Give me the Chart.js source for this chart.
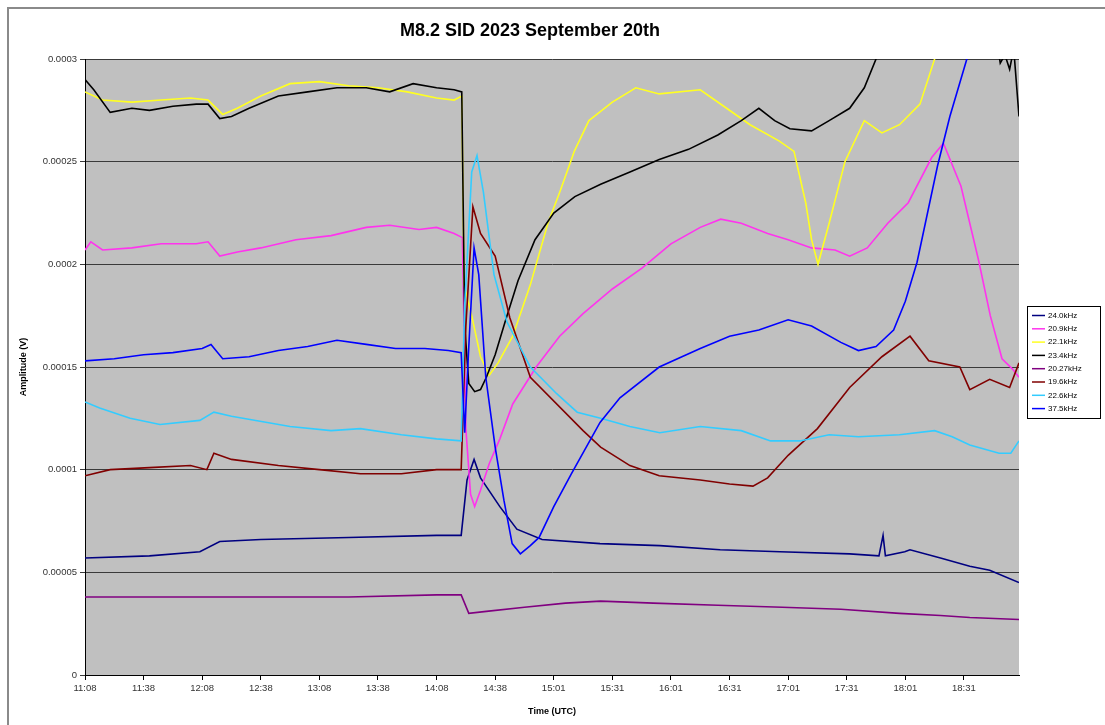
<!DOCTYPE html>
<html>
<head>
<meta charset="utf-8">
<title>M8.2 SID 2023 September 20th</title>
<script src="https://cdn.jsdelivr.net/npm/chart.js@4.4.1/dist/chart.umd.min.js"></script>
<style>
  body { margin: 0; background: #fff; }
  canvas { display: block; background: #fff; }
</style>
</head>
<body>
<canvas id="sid" width="1105" height="725"></canvas>
<script>
// Etiquetas del eje X (posicion = numero de marca)
const xLabels = ['11:08', '11:38', '12:08', '12:38', '13:08', '13:38', '14:08', '14:38',
  '15:01', '15:31', '16:01', '16:31', '17:01', '17:31', '18:01', '18:31'];
const yTickLabels = ['0', '0.00005', '0.0001', '0.00015', '0.0002', '0.00025', '0.0003'];
const seriesNames = ['24.0kHz', '20.9kHz', '22.1kHz', '23.4kHz', '20.27kHz', '19.6kHz', '22.6kHz', '37.5kHz'];

// Puntos: [posicion en marcas, amplitud V]
const s24_0 = [[0,5.7e-5],[1.1,5.8e-5],[1.96,6.0e-5],[2.3,6.5e-5],[3.0,6.6e-5],[4.5,6.7e-5],[6.0,6.8e-5],[6.42,6.8e-5],
  [6.52,9.5e-5],[6.64,1.05e-4],[6.75,9.6e-5],[7.08,8.2e-5],[7.37,7.1e-5],[7.8,6.6e-5],[8.79,6.4e-5],[9.81,6.3e-5],
  [10.84,6.1e-5],[11.86,6.0e-5],[13.05,5.9e-5],[13.55,5.8e-5],[13.62,6.8e-5],[13.66,5.8e-5],[13.99,6.0e-5],[14.08,6.1e-5],
  [14.6,5.7e-5],[15.1,5.3e-5],[15.44,5.1e-5],[15.94,4.5e-5]];
const s20_9 = [[0,2.07e-4],[0.1,2.11e-4],[0.3,2.07e-4],[0.8,2.08e-4],[1.3,2.10e-4],[1.9,2.10e-4],[2.1,2.11e-4],[2.3,2.04e-4],
  [2.6,2.06e-4],[3.0,2.08e-4],[3.6,2.12e-4],[4.2,2.14e-4],[4.8,2.18e-4],[5.2,2.19e-4],[5.7,2.17e-4],[6.0,2.18e-4],
  [6.3,2.15e-4],[6.44,2.13e-4],[6.5,1.2e-4],[6.58,8.8e-5],[6.65,8.2e-5],[6.75,9.0e-5],[6.9,1.03e-4],[7.08,1.15e-4],
  [7.3,1.32e-4],[7.7,1.50e-4],[8.1,1.65e-4],[8.5,1.76e-4],[9.0,1.88e-4],[9.5,1.98e-4],[10.0,2.10e-4],[10.5,2.18e-4],
  [10.85,2.22e-4],[11.2,2.20e-4],[11.65,2.15e-4],[12.0,2.12e-4],[12.4,2.08e-4],[12.8,2.07e-4],[13.05,2.04e-4],
  [13.35,2.08e-4],[13.7,2.20e-4],[14.05,2.30e-4],[14.45,2.52e-4],[14.65,2.59e-4],[14.95,2.38e-4],[15.25,2.02e-4],
  [15.45,1.75e-4],[15.65,1.54e-4],[15.83,1.49e-4],[15.94,1.45e-4]];
const s22_1 = [[0,2.84e-4],[0.3,2.80e-4],[0.8,2.79e-4],[1.3,2.80e-4],[1.8,2.81e-4],[2.1,2.80e-4],[2.35,2.73e-4],[2.6,2.76e-4],
  [3.0,2.82e-4],[3.5,2.88e-4],[4.0,2.89e-4],[4.5,2.87e-4],[5.0,2.86e-4],[5.5,2.84e-4],[6.0,2.81e-4],[6.3,2.80e-4],
  [6.43,2.82e-4],[6.47,1.9e-4],[6.6,1.75e-4],[6.75,1.55e-4],[6.9,1.46e-4],[7.05,1.52e-4],[7.3,1.65e-4],[7.6,1.90e-4],
  [7.9,2.20e-4],[8.1,2.35e-4],[8.35,2.55e-4],[8.6,2.70e-4],[9.0,2.79e-4],[9.4,2.86e-4],[9.8,2.83e-4],[10.5,2.85e-4],
  [10.95,2.76e-4],[11.35,2.68e-4],[11.85,2.60e-4],[12.1,2.55e-4],[12.3,2.30e-4],[12.4,2.12e-4],[12.51,2.0e-4],
  [12.7,2.2e-4],[12.97,2.5e-4],[13.3,2.7e-4],[13.6,2.64e-4],[13.9,2.68e-4],[14.25,2.78e-4],[14.5,3.0e-4],[14.8,3.2e-4]];
const s23_4 = [[0,2.90e-4],[0.15,2.85e-4],[0.43,2.74e-4],[0.8,2.76e-4],[1.1,2.75e-4],[1.5,2.77e-4],[1.9,2.78e-4],[2.1,2.78e-4],
  [2.3,2.71e-4],[2.5,2.72e-4],[2.8,2.76e-4],[3.3,2.82e-4],[3.8,2.84e-4],[4.3,2.86e-4],[4.8,2.86e-4],[5.2,2.84e-4],
  [5.6,2.88e-4],[6.0,2.86e-4],[6.3,2.85e-4],[6.43,2.84e-4],[6.48,1.7e-4],[6.55,1.42e-4],[6.65,1.38e-4],[6.75,1.39e-4],
  [6.85,1.45e-4],[7.0,1.56e-4],[7.17,1.72e-4],[7.39,1.92e-4],[7.68,2.12e-4],[8.0,2.25e-4],[8.36,2.33e-4],[8.8,2.39e-4],
  [9.3,2.45e-4],[9.8,2.51e-4],[10.3,2.56e-4],[10.8,2.63e-4],[11.2,2.70e-4],[11.5,2.76e-4],[11.77,2.70e-4],
  [12.03,2.66e-4],[12.4,2.65e-4],[12.7,2.70e-4],[13.05,2.76e-4],[13.3,2.86e-4],[13.5,3.0e-4],[13.7,3.2e-4],
  [14.5,3.5e-4],[15.5,3.2e-4],[15.62,2.98e-4],[15.7,3.02e-4],[15.78,2.95e-4],[15.85,3.05e-4],[15.94,2.72e-4]];
const s20_27 = [[0,3.8e-5],[1.5,3.8e-5],[3.0,3.8e-5],[4.5,3.8e-5],[6.0,3.9e-5],[6.42,3.9e-5],[6.55,3.0e-5],[6.85,3.1e-5],
  [7.5,3.3e-5],[8.2,3.5e-5],[8.8,3.6e-5],[9.7,3.5e-5],[10.8,3.4e-5],[11.9,3.3e-5],[12.9,3.2e-5],[13.9,3.0e-5],
  [14.6,2.9e-5],[15.1,2.8e-5],[15.94,2.7e-5]];
const s19_6 = [[0,9.7e-5],[0.43,1.0e-4],[1.1,1.01e-4],[1.8,1.02e-4],[2.08,1.0e-4],[2.2,1.08e-4],[2.5,1.05e-4],[3.3,1.02e-4],
  [4.0,1.0e-4],[4.7,9.8e-5],[5.4,9.8e-5],[6.0,1.0e-4],[6.42,1.0e-4],[6.5,1.7e-4],[6.62,2.28e-4],[6.75,2.15e-4],
  [7.0,2.04e-4],[7.25,1.74e-4],[7.6,1.45e-4],[8.5,1.19e-4],[8.8,1.11e-4],[9.3,1.02e-4],[9.8,9.7e-5],[10.5,9.5e-5],
  [11.0,9.3e-5],[11.4,9.2e-5],[11.65,9.6e-5],[12.0,1.07e-4],[12.5,1.20e-4],[13.05,1.40e-4],[13.6,1.55e-4],
  [14.08,1.65e-4],[14.4,1.53e-4],[14.93,1.50e-4],[15.1,1.39e-4],[15.44,1.44e-4],[15.78,1.40e-4],[15.94,1.52e-4]];
const s22_6 = [[0,1.33e-4],[0.25,1.30e-4],[0.77,1.25e-4],[1.28,1.22e-4],[1.96,1.24e-4],[2.2,1.28e-4],[2.5,1.26e-4],
  [3.5,1.21e-4],[4.2,1.19e-4],[4.7,1.20e-4],[5.4,1.17e-4],[6.0,1.15e-4],[6.42,1.14e-4],[6.48,1.8e-4],[6.6,2.45e-4],
  [6.69,2.53e-4],[6.8,2.35e-4],[6.98,1.95e-4],[7.2,1.72e-4],[7.6,1.50e-4],[8.05,1.37e-4],[8.4,1.28e-4],[8.8,1.25e-4],
  [9.3,1.21e-4],[9.81,1.18e-4],[10.5,1.21e-4],[11.2,1.19e-4],[11.7,1.14e-4],[12.2,1.14e-4],[12.7,1.17e-4],
  [13.2,1.16e-4],[13.9,1.17e-4],[14.5,1.19e-4],[14.8,1.16e-4],[15.1,1.12e-4],[15.6,1.08e-4],[15.8,1.08e-4],[15.94,1.14e-4]];
const s37_5 = [[0,1.53e-4],[0.5,1.54e-4],[1.0,1.56e-4],[1.5,1.57e-4],[2.0,1.59e-4],[2.15,1.61e-4],[2.35,1.54e-4],[2.8,1.55e-4],
  [3.3,1.58e-4],[3.8,1.60e-4],[4.3,1.63e-4],[4.8,1.61e-4],[5.3,1.59e-4],[5.8,1.59e-4],[6.2,1.58e-4],[6.42,1.57e-4],
  [6.48,1.18e-4],[6.55,1.6e-4],[6.64,2.08e-4],[6.72,1.95e-4],[6.84,1.45e-4],[7.0,1.11e-4],[7.15,8.5e-5],[7.29,6.4e-5],
  [7.43,5.9e-5],[7.6,6.3e-5],[7.75,6.7e-5],[8.0,8.2e-5],[8.3,9.8e-5],[8.79,1.23e-4],[9.13,1.35e-4],[9.8,1.50e-4],
  [10.5,1.59e-4],[11.0,1.65e-4],[11.5,1.68e-4],[12.0,1.73e-4],[12.4,1.70e-4],[12.9,1.62e-4],[13.2,1.58e-4],
  [13.5,1.60e-4],[13.8,1.68e-4],[14.0,1.82e-4],[14.2,2.01e-4],[14.55,2.48e-4],[14.76,2.72e-4],[15.05,3.0e-4],[15.3,3.2e-4]];

const seriesData = [s24_0, s20_9, s22_1, s23_4, s20_27, s19_6, s22_6, s37_5];
const seriesColors = ['#000080', '#ff33ee', '#ffff22', '#000000', '#800080', '#800000', '#33ccff', '#0000ff'];

const FONT = '"Liberation Sans", Arial, sans-serif';

// fondo gris del area de trazado y marco exterior
const fondo = {
  id: 'fondo',
  beforeDraw(chart) {
    const { ctx, chartArea: a } = chart;
    ctx.save();
    ctx.fillStyle = '#c0c0c0';
    ctx.fillRect(a.left, a.top, a.right - a.left, a.bottom - a.top);
    ctx.strokeStyle = '#8a8a8a';
    ctx.lineWidth = 2;
    ctx.strokeRect(8, 8, 1200, 800);
    ctx.restore();
  }
};

// titulo y leyenda con recuadro (estilo Excel)
const extras = {
  id: 'extras',
  afterDraw(chart) {
    const ctx = chart.ctx;
    ctx.save();
    ctx.fillStyle = '#000';
    ctx.font = 'bold 18px ' + FONT;
    ctx.textAlign = 'center';
    ctx.textBaseline = 'middle';
    ctx.fillText('M8.2 SID 2023 September 20th', 530, 31);

    const x0 = 1027, y0 = 306, w = 73, h = 112;
    ctx.fillStyle = '#fff';
    ctx.fillRect(x0, y0, w, h);
    ctx.strokeStyle = '#000';
    ctx.lineWidth = 1;
    ctx.strokeRect(x0 + 0.5, y0 + 0.5, w, h);
    ctx.font = '8px ' + FONT;
    ctx.textAlign = 'left';
    chart.data.datasets.forEach((ds, i) => {
      const y = y0 + 9.5 + i * 13.3;
      ctx.strokeStyle = ds.borderColor;
      ctx.lineWidth = 1.5;
      ctx.beginPath();
      ctx.moveTo(x0 + 5, y);
      ctx.lineTo(x0 + 18, y);
      ctx.stroke();
      ctx.fillStyle = '#000';
      ctx.fillText(ds.label, x0 + 21, y);
    });
    ctx.restore();
  }
};

const ctx = document.getElementById('sid').getContext('2d');
const grafico = new Chart(ctx, {
  type: 'line',
  data: {
    datasets: seriesNames.map((name, i) => ({
      label: name,
      data: seriesData[i],
      borderColor: seriesColors[i],
      backgroundColor: seriesColors[i],
      borderWidth: 1.6,
      pointRadius: 0,
      tension: 0,
      fill: false,
      order: seriesNames.length - i
    }))
  },
  options: {
    responsive: false,
    animation: false,
    layout: { padding: { top: 59, right: 86, left: 0, bottom: 0 } },
    plugins: {
      legend: { display: false },
      title: { display: false },
      tooltip: { enabled: false }
    },
    scales: {
      x: {
        type: 'linear',
        min: 0,
        max: 15.94,
        afterFit(scale) { scale.height = 50; },
        afterBuildTicks(scale) { scale.ticks = xLabels.map((_, i) => ({ value: i })); },
        border: { color: '#000', width: 1 },
        grid: { drawOnChartArea: false, drawTicks: true, tickLength: 5, color: '#000' },
        ticks: {
          autoSkip: false,
          maxRotation: 0,
          padding: 3,
          color: '#333',
          font: { family: FONT, size: 9.5 },
          callback: v => xLabels[v]
        },
        title: {
          display: true,
          text: 'Time (UTC)',
          color: '#000',
          font: { family: FONT, size: 9, weight: 'bold' },
          padding: { top: 4, bottom: 8 }
        }
      },
      y: {
        min: 0,
        max: 0.0003,
        afterFit(scale) { scale.width = 85; },
        border: { color: '#000', width: 1 },
        grid: { color: '#3a3a3a', lineWidth: 1, tickLength: 5 },
        ticks: {
          stepSize: 0.00005,
          padding: 3,
          color: '#333',
          font: { family: FONT, size: 9.5 },
          callback: v => yTickLabels[Math.round(v / 0.00005)]
        },
        title: {
          display: true,
          text: 'Amplitude (V)',
          color: '#000',
          font: { family: FONT, size: 9, weight: 'bold' },
          padding: { top: 18, bottom: 4 }
        }
      }
    }
  },
  plugins: [fondo, extras]
});
</script>
</body>
</html>
